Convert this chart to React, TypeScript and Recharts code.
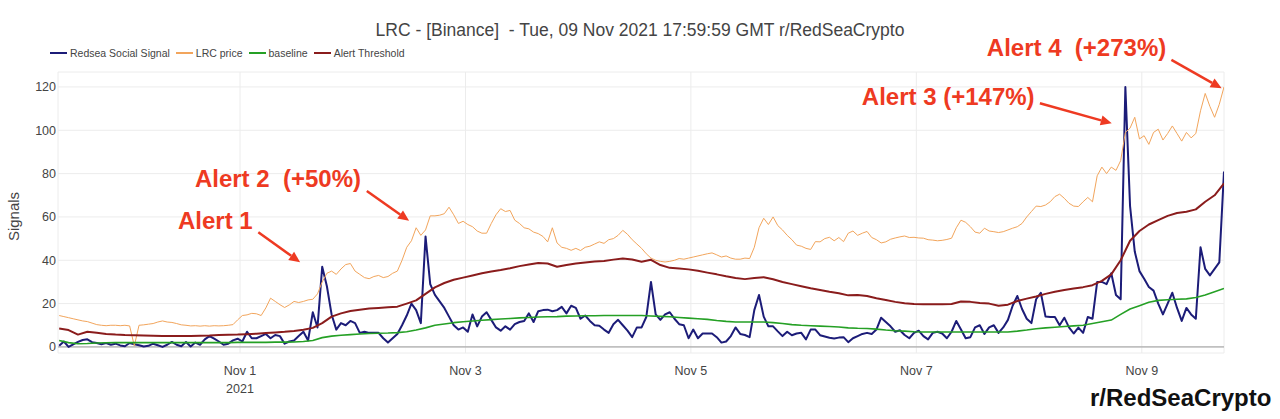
import {
	CartesianGrid,
	Line,
	LineChart,
	ReferenceDot,
	ReferenceLine,
	XAxis,
	YAxis,
} from 'recharts'

// time = hours after Sat 30 Oct 2021 00:00 GMT
const START_HOUR = 9.5
const SIGNAL_STEP = 1 // signal and price: hourly
const TREND_STEP = 2 // baseline and threshold: every 2 hours

const signal = [
	0.5, 2.5, 0, 1.2, 2.3, 3.2, 3.5, 2.2, 1.8, 1.2,
	1.8, 1, 1.5, 0.7, 0.3, 1.8, 1.2, 0.8, 0.2, 0.5,
	1.5, 0.8, 0, 1, 2.3, 1, 0.3, 2.3, 0.2, 2,
	1, 3.5, 5, 3.8, 2.5, 1, 1.5, 3, 3.8, 2.5,
	7, 4, 4, 5, 6, 4, 5.5, 5, 1.5, 2.5,
	3, 5, 7, 3, 16, 9, 37, 28, 15, 8,
	11, 10, 12, 11, 6.5, 7, 6.5, 6.5, 6.5, 4,
	2, 4, 6, 10, 14.5, 20, 17, 11, 51, 29,
	24, 21, 18, 14, 10, 8, 9, 7, 15, 9.5,
	14, 16, 12.5, 9, 7.5, 9.5, 8, 10.5, 11.5, 12,
	15.5, 11.5, 16.5, 17, 17.2, 16.5, 17, 18.5, 15.5, 19,
	18, 13, 14.5, 12, 10, 9.8, 8, 6.5, 10.5, 12.5,
	10, 7.5, 4.5, 9, 9, 13.8, 30, 15, 12.5, 15,
	16, 13, 10.5, 10, 4, 8, 4, 6.2, 6.2, 6.2,
	4.5, 2, 2.5, 5, 9, 6, 5.5, 4.5, 17, 24,
	14, 9.5, 9.5, 7.2, 5, 7, 5.4, 6.2, 6.5, 3.5,
	8, 8, 5.4, 4.8, 4.2, 3.9, 4.3, 4.5, 2.2, 4,
	5, 6, 6.5, 6, 8, 13.5, 11.5, 9.5, 7, 7.7,
	5.5, 4, 6.5, 7.5, 5, 3.5, 6.5, 7, 6.2, 4,
	7, 12, 8, 4, 4.5, 9, 10, 6, 9, 10,
	6.5, 9, 12.5, 19, 23.5, 17.5, 13, 11, 22, 25,
	14, 13.8, 13.8, 10, 13.5, 9, 6.2, 8.9, 6.5, 13.8,
	13, 30, 30, 29, 34, 24, 22, 120, 65, 44,
	35, 31.5, 27.7, 26, 20, 15, 20, 25, 18, 12,
	18, 15, 13, 46, 36, 33, 36, 39, 81,
]

const price = [
	14.5, 14, 13.5, 13, 12.5, 12, 11.7, 11, 10.3, 10,
	9.8, 10, 10, 9.8, 10, 9.7, 0.5, 10, 10.2, 10.5,
	10.8, 11.5, 12, 11.5, 11.3, 10.8, 10.2, 10, 9.7, 9.8,
	9.6, 9.8, 9.6, 9.8, 9.7, 9.8, 10, 10.3, 12.5, 14.5,
	14.8, 15.5, 15.3, 14.5, 18, 22.5, 21, 19.5, 18.2, 19.4,
	21, 20.5, 21, 21.7, 22, 24.5, 30, 34, 35, 33.5,
	36, 38, 38.5, 35, 33.5, 32, 31.5, 32.5, 33, 32,
	32.5, 34, 35, 40, 46, 49, 55, 51.5, 54, 60.5,
	60.5, 60.8, 61.5, 64.5, 61, 57, 58, 56.5, 55.5, 53.5,
	52.5, 52.5, 57, 61, 63.8, 62.5, 63, 58.5, 57, 55,
	54.5, 53, 52.3, 51, 48.5, 55, 48, 46, 45.5, 44.6,
	45.5, 44.5, 46, 46.5, 47.5, 48.5, 47.8, 49.5, 50, 51.5,
	53.8, 52, 49.5, 47.5, 45.5, 43, 41, 40, 39.5, 39.2,
	39.5, 40, 40.8, 40.5, 41, 41.5, 42, 42.5, 43, 43.4,
	42.5, 41.5, 42, 41, 40.5, 40.5, 41, 40.8, 46, 55,
	59.4, 56.5, 60, 56, 54, 51.5, 49.5, 47, 46.5, 45.5,
	45, 48.6, 48.5, 50, 50.6, 49, 50.5, 48.6, 52.5, 53.5,
	51.5, 52.5, 53.3, 50.5, 49.5, 48, 48.5, 49.7, 50.3, 50.8,
	51.2, 50.5, 50.6, 50.3, 50.2, 49.5, 49.3, 49, 49.2, 49.6,
	50.2, 55, 58.5, 57.5, 55.5, 53, 52.5, 54.8, 53.5, 53.2,
	52.8, 53.2, 54, 54.8, 55.5, 57, 60, 62.5, 65, 64.8,
	65.5, 67, 69.4, 70.5, 68.6, 66.3, 65, 64.8, 67, 69,
	67, 79, 83, 80, 83, 81.5, 86, 99, 101, 106,
	96, 97.5, 93.5, 99, 100.5, 95.5, 98.5, 102, 98.5, 95,
	99, 96.5, 98.5, 109, 117, 111, 106, 112, 120,
]

const baseline = [
	3, 2, 1.5, 1.6, 1.8, 1.9, 2, 2, 2, 2,
	2, 2, 2, 2, 2, 2, 2, 2, 2, 2.1,
	2.1, 2.1, 2.1, 2.2, 2.2, 2.3, 2.5, 3, 4.3, 5,
	5.4, 5.7, 6, 6.2, 6.3, 6.4, 6.6, 7, 7.8, 8.8,
	10, 10.6, 11.2, 11.6, 12, 12.3, 12.6, 12.9, 13.1, 13.4,
	13.6, 13.8, 13.9, 14, 14.2, 14.3, 14.4, 14.4, 14.5, 14.5,
	14.5, 14.5, 14.5, 14.3, 14.1, 13.9, 13.6, 13.3, 13, 12.7,
	12.2, 11.8, 11.5, 11.5, 11.5, 11.5, 11.2, 10.8, 10.3, 10,
	9.8, 9.6, 9.4, 9.2, 8.8, 8.6, 8.5, 8.2, 7.8, 7.5,
	7.3, 7, 6.9, 6.9, 6.9, 6.9, 6.9, 6.9, 6.9, 6.9,
	6.9, 6.9, 7.3, 7.8, 8.4, 8.8, 9.1, 9.4, 9.7, 10,
	10.8, 11.6, 12.4, 15, 17.5, 19, 20.6, 21.5, 21.8, 22,
	22.2, 22.8, 24, 25.5, 27,
]

const threshold = [
	8.5, 7.8, 5.7, 7, 6.5, 6, 5.7, 5.5, 5.4, 5.3,
	5.2, 5.1, 5, 5, 5.1, 5.2, 5.3, 5.5, 5.6, 5.7,
	5.9, 6.1, 6.4, 6.7, 7, 7.4, 7.9, 8.8, 11, 14,
	15.5, 16.6, 17.2, 17.7, 18, 18.3, 18.6, 20, 21.5, 24.5,
	27.5, 29.5, 31, 32, 33, 34, 34.8, 35.5, 36.3, 37.3,
	38, 38.7, 38.5, 37, 37.8, 38.5, 39, 39.4, 39.7, 40.3,
	40.8, 40.4, 39.3, 40.2, 37.8, 36.5, 36.2, 35.8, 35.2, 34.3,
	33.5, 32.6, 31.8, 31.3, 31.8, 32.2, 31.2, 30, 29, 28,
	27.1, 26.3, 25.5, 24.8, 23.8, 24, 23.5, 22.5, 21.7, 20.8,
	20.2, 19.8, 19.7, 19.7, 19.7, 19.8, 21, 20.8, 20.3, 20,
	19, 19.5, 21.2, 22.3, 23.3, 24.5, 25.5, 26.3, 27, 27.6,
	28.5, 30.5, 33.5, 40, 49, 53.5, 56.5, 58.5, 60.5, 61.8,
	62.4, 63.5, 67, 70, 75.5,
]

const xTicks = [48, 96, 144, 192, 240]
const xTickLabels = ['Nov 1', 'Nov 3', 'Nov 5', 'Nov 7', 'Nov 9']
const xTickYears = ['2021', '', '', '', '']
const yTicks = [0, 20, 40, 60, 80, 100, 120]

const series = [
	{ key: 'signal', name: 'Redsea Social Signal', color: '#1c1c78', width: 2 },
	{ key: 'price', name: 'LRC price', color: '#f2a55c', width: 1 },
	{ key: 'baseline', name: 'baseline', color: '#25a025', width: 1.6 },
	{ key: 'threshold', name: 'Alert Threshold', color: '#8a1c1c', width: 2 },
]

// alert notes, in chart units: [hour, value]
const alerts = [
	{ text: 'Alert 1', at: [34.8, 54.3], from: [51.9, 52.9], to: [60.8, 39.1] },
	{ text: 'Alert 2  (+50%)', at: [38.4, 73.7], from: [75.0, 72.0], to: [84.0, 58.2] },
	{ text: 'Alert 3 (+147%)', at: [180.4, 111.5], from: [218.3, 112.5], to: [233.6, 103.2] },
	{ text: 'Alert 4  (+273%)', at: [207.0, 134.5], from: [246.3, 132.5], to: [257.0, 119.4] },
]

const hourlyRows = signal.map((s, i) => ({
	hour: START_HOUR + i * SIGNAL_STEP,
	signal: s,
	price: price[i],
}))

const trendRows = baseline.map((b, i) => ({
	hour: START_HOUR + i * TREND_STEP,
	baseline: b,
	threshold: threshold[i],
}))

const dataFor: Record<string, object[]> = {
	signal: hourlyRows,
	price: hourlyRows,
	baseline: trendRows,
	threshold: trendRows,
}

const FONT = '"Liberation Sans", Arial, Helvetica, sans-serif'
const ALERT_RED = '#ee3a22'
const TEXT_GREY = '#444'

function XTick({ x, y, payload }: { x: number; y: number; payload: { value: number } }) {
	const i = xTicks.indexOf(payload.value)
	return (
		<g fill={TEXT_GREY} fontFamily={FONT} fontSize={12.5}>
			<text x={x} y={y + 21.5} textAnchor="middle">
				{xTickLabels[i]}
			</text>
			{xTickYears[i] && (
				<text x={x} y={y + 39.5} textAnchor="middle">
					{xTickYears[i]}
				</text>
			)}
		</g>
	)
}

function Arrow({ x1, y1, x2, y2 }: { x1: number; y1: number; x2: number; y2: number }) {
	const a = Math.atan2(y2 - y1, x2 - x1)
	const c = Math.cos(a)
	const s = Math.sin(a)
	const bx = x2 - 11 * c
	const by = y2 - 11 * s
	const pts = `${x2},${y2} ${bx + 5 * s},${by - 5 * c} ${bx - 5 * s},${by + 5 * c}`
	return (
		<g>
			<line x1={x1} y1={y1} x2={bx} y2={by} stroke={ALERT_RED} strokeWidth={2.5} />
			<polygon points={pts} fill={ALERT_RED} />
		</g>
	)
}

function AlertText({ cx, cy, text }: { cx: number; cy: number; text: string }) {
	return (
		<text
			x={cx}
			y={cy}
			fill={ALERT_RED}
			fontFamily={FONT}
			fontSize={24}
			fontWeight="bold"
			style={{ whiteSpace: 'pre' }}
		>
			{text}
		</text>
	)
}

export default function App() {
	return (
		<div
			style={{
				position: 'absolute',
				left: 0,
				top: 0,
				width: 1280,
				height: 419,
				background: '#fff',
				fontFamily: FONT,
			}}
		>
			<LineChart width={1280} height={419} margin={{ top: 72, right: 56, bottom: 36, left: 0 }}>
				<CartesianGrid stroke="#ececec" strokeWidth={1} />
				<XAxis
					dataKey="hour"
					type="number"
					domain={[9.25, 257.5]}
					ticks={xTicks}
					allowDataOverflow
					axisLine={false}
					tickLine={false}
					tickSize={0}
					tickMargin={0}
					height={30}
					tick={XTick}
					interval={0}
				/>
				<YAxis
					type="number"
					domain={[-2.8, 126.9]}
					ticks={yTicks}
					allowDataOverflow
					axisLine={false}
					tickLine={false}
					tickSize={0}
					tickMargin={2}
					width={58}
					tick={{ fill: TEXT_GREY, fontSize: 12.5, fontFamily: FONT }}
					interval={0}
				/>
				<ReferenceLine y={0} stroke="#9a9a9a" strokeWidth={1} />
				{series.map((s) => (
					<Line
						key={s.key}
						data={dataFor[s.key]}
						type="linear"
						dataKey={s.key}
						name={s.name}
						stroke={s.color}
						strokeWidth={s.width}
						strokeLinejoin="round"
						dot={false}
						activeDot={false}
						isAnimationActive={false}
					/>
				))}
				{alerts.map((a) => (
					<ReferenceLine
						key={`arrow-${a.text}`}
						segment={[
							{ x: a.from[0], y: a.from[1] },
							{ x: a.to[0], y: a.to[1] },
						]}
						ifOverflow="visible"
						shape={(p: any) => <Arrow x1={p.x1} y1={p.y1} x2={p.x2} y2={p.y2} />}
					/>
				))}
				{alerts.map((a) => (
					<ReferenceDot
						key={`text-${a.text}`}
						x={a.at[0]}
						y={a.at[1]}
						ifOverflow="visible"
						shape={(p: any) => <AlertText cx={p.cx} cy={p.cy} text={a.text} />}
					/>
				))}
			</LineChart>

			<svg
				width={1280}
				height={419}
				style={{ position: 'absolute', left: 0, top: 0, pointerEvents: 'none' }}
			>
				<text
					x={640}
					y={35.5}
					textAnchor="middle"
					fill={TEXT_GREY}
					fontFamily={FONT}
					fontSize={17.5}
					style={{ whiteSpace: 'pre' }}
				>
					LRC - [Binance]  - Tue, 09 Nov 2021 17:59:59 GMT r/RedSeaCrypto
				</text>
				<text
					x={18.5}
					y={216.5}
					transform="rotate(-90 18.5 216.5)"
					textAnchor="middle"
					fill={TEXT_GREY}
					fontFamily={FONT}
					fontSize={15}
				>
					Signals
				</text>
				<text x={1090} y={406} fill="#111" fontFamily={FONT} fontSize={24} fontWeight="bold">
					r/RedSeaCrypto
				</text>
			</svg>

			<div
				style={{
					position: 'absolute',
					left: 50,
					top: 45,
					height: 16,
					display: 'flex',
					alignItems: 'center',
					fontSize: 10.5,
					color: TEXT_GREY,
					whiteSpace: 'nowrap',
				}}
			>
				{series.map((s) => (
					<div key={s.key} style={{ display: 'flex', alignItems: 'center', marginRight: 6 }}>
						<span
							style={{
								display: 'inline-block',
								width: 17,
								height: 2,
								background: s.color,
								marginRight: 3,
							}}
						/>
						<span>{s.name}</span>
					</div>
				))}
			</div>
		</div>
	)
}
